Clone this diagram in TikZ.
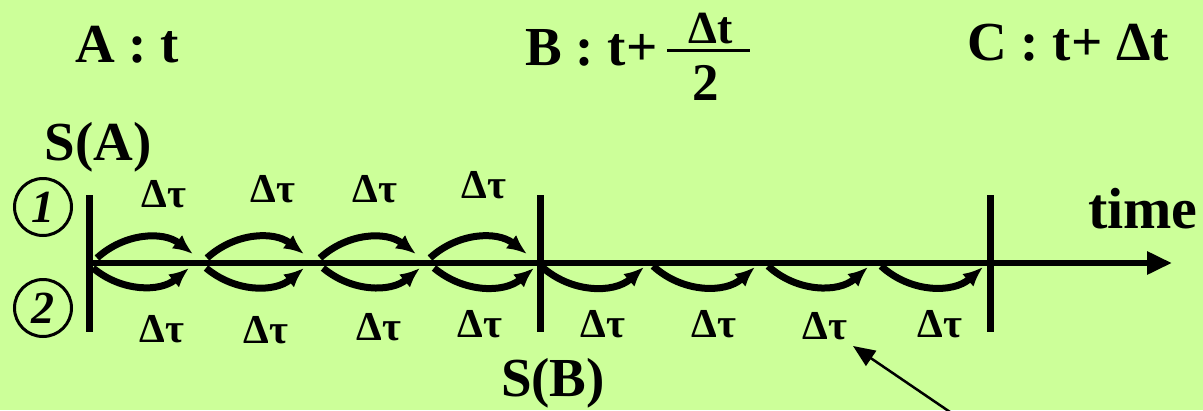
\documentclass[tikz,border=0pt]{standalone}
\usepackage{fontspec}
\setmainfont{Liberation Serif}
\usetikzlibrary{arrows.meta}
\definecolor{bg}{RGB}{204,255,153}
\begin{document}
\begin{tikzpicture}[x=1pt,y=-1pt,
  lbl/.style={font=\fontsize{41}{41}\selectfont\bfseries, inner sep=0pt, anchor=base},
  hdr/.style={font=\fontsize{55}{55}\selectfont\bfseries, inner sep=0pt, anchor=base west},
  sl/.style={font=\fontsize{55}{55}\selectfont\bfseries, inner sep=0pt, anchor=base},
  tickline/.style={line width=7pt},
  hop/.style={line width=7pt, -{Latex[length=20pt,width=17pt]}},
  numc/.style={circle, draw, line width=3pt, minimum size=57pt, inner sep=0pt, font=\fontsize{46}{46}\selectfont\bfseries\itshape}
]
\fill[bg] (0,0) rectangle (1203,410);
\useasboundingbox (0,0) rectangle (1203,410);

% headers
\node[hdr] (hA) at (75,62) {A : t};
\node[hdr] (hB) at (525,65) {B : t+};
\node[font=\fontsize{46}{46}\selectfont\bfseries, inner sep=0pt, anchor=base] (fn) at (711,43) {Δt};
\node[font=\fontsize{53}{53}\selectfont\bfseries, inner sep=0pt, anchor=base] (fd) at (706,100) {2};
\coordinate (fb0) at (667,50);
\coordinate (fb1) at (750,50);
\draw[line width=3pt] (fb0) -- (fb1);
\node[hdr] (hC) at (967,60) {C : t+ Δt};

% labels
\node[sl] (sA) at (98,160) {S(A)};
\node[sl] (sB) at (553,396) {S(B)};
\node[font=\fontsize{58}{58}\selectfont\bfseries, inner sep=0pt, anchor=base west] (tm) at (1088,228) {time};
\node[numc] (n1) at (43,207) {1};
\node[numc] (n2) at (43,308) {2};

% axis and ticks
\coordinate (ax0) at (89,263);
\coordinate (ax1) at (1172,263);
\draw[line width=6pt, -{Triangle[length=25pt,width=22pt]}] (ax0) -- (ax1);
\coordinate (A0) at (89,195); \coordinate (A1) at (89,332);
\coordinate (B0) at (540,195); \coordinate (B1) at (540,332);
\coordinate (C0) at (990,195); \coordinate (C1) at (990,332);
\draw[tickline] (A0) -- (A1);
\draw[tickline] (B0) -- (B1);
\draw[tickline] (C0) -- (C1);

% upper hops (process 1)
\foreach \s/\e [count=\i] in {97/193, 207/304, 320/416, 430/527}{
  \coordinate (us\i) at (\s,258);
  \coordinate (ue\i) at (\e,254);
  \draw[hop] (us\i) to[bend left=40] (ue\i);
}
% lower hops (process 2), first half
\foreach \s/\e [count=\i] in {93/189, 206/304, 323/420, 434/534}{
  \coordinate (ls\i) at (\s,268);
  \coordinate (le\i) at (\e,268);
  \draw[hop] (ls\i) to[bend right=40] (le\i);
}
% lower hops, second half
\foreach \s/\e [count=\i] in {541/644, 653/755, 768/868, 881/983}{
  \coordinate (rs\i) at (\s,266);
  \coordinate (re\i) at (\e,267);
  \draw[hop] (rs\i) to[bend right=42] (re\i);
}

% delta tau labels
\node[lbl] (t1) at (164,207) {Δτ};
\node[lbl] (t2) at (273,202) {Δτ};
\node[lbl] (t3) at (375,202) {Δτ};
\node[lbl] (t4) at (484,198) {Δτ};
\node[lbl] (b1) at (162,342) {Δτ};
\node[lbl] (b2) at (266,343) {Δτ};
\node[lbl] (b3) at (379,340) {Δτ};
\node[lbl] (b4) at (480,337) {Δτ};
\node[lbl] (r1) at (603,337) {Δτ};
\node[lbl] (r2) at (714,337) {Δτ};
\node[lbl] (r3) at (825,339) {Δτ};
\node[lbl] (r4) at (940,337) {Δτ};

% pointer
\coordinate (ptrs) at (950,412);
\coordinate (ptre) at (853,346);
\draw[line width=2.5pt, -{Triangle[length=22pt,width=18pt]}] (ptrs) -- (ptre);
\end{tikzpicture}
\end{document}
